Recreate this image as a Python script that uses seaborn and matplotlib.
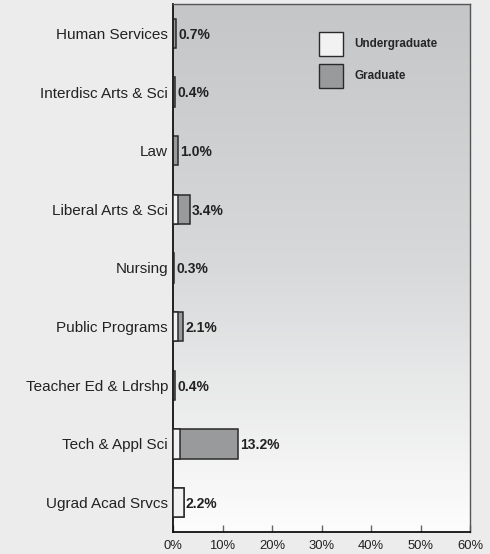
import numpy as np
import pandas as pd
import matplotlib
matplotlib.use("Agg")
import matplotlib.pyplot as plt
import seaborn as sns
from matplotlib.patches import Patch
from matplotlib.colors import LinearSegmentedColormap

categories = ["Human Services", "Interdisc Arts & Sci", "Law", "Liberal Arts & Sci",
              "Nursing", "Public Programs", "Teacher Ed & Ldrshp", "Tech & Appl Sci",
              "Ugrad Acad Srvcs"]
undergrad = [0.1, 0.0, 0.1, 1.1, 0.0, 1.0, 0.0, 1.4, 2.2]
graduate = [0.6, 0.4, 0.9, 2.3, 0.3, 1.1, 0.4, 11.8, 0.0]
totals_label = ["0.7%", "0.4%", "1.0%", "3.4%", "0.3%", "2.1%", "0.4%", "13.2%", "2.2%"]
xticks = [0, 10, 20, 30, 40, 50, 60]
xtick_labels = ["0%", "10%", "20%", "30%", "40%", "50%", "60%"]

sns.set_theme(style="white")
fam = ["Liberation Sans", "DejaVu Sans"]
plt.rcParams["font.family"] = fam

df = pd.DataFrame({"cat": categories, "under": undergrad, "grad": graduate})
df["total"] = df["under"] + df["grad"]

fig = plt.figure(figsize=(4.9, 5.54), dpi=100, facecolor="#ececec")
ax = fig.add_axes([173/490, 1-532/554, 297/490, 528/554])

# gradient background
grad_img = np.linspace(0, 1, 256).reshape(-1, 1)
cmap = LinearSegmentedColormap.from_list("bg", ["#c5c6c8", "#d8d9da", "#fdfdfd"])
ax.imshow(grad_img, aspect="auto", cmap=cmap, extent=[0, 60, 8.5, -0.5], zorder=0)

edge = "#2a2a2a"
sns.barplot(data=df, y="cat", x="total", color="#999a9c", edgecolor=edge, linewidth=1.1,
            width=0.5, saturation=1, ax=ax, zorder=2, orient="h")
sns.barplot(data=df, y="cat", x="under", color="#f2f2f2", edgecolor=edge, linewidth=1.1,
            width=0.5, saturation=1, ax=ax, zorder=3, orient="h")

for i, (t, lab) in enumerate(zip(df["total"], totals_label)):
    ax.annotate(lab, (t, i), xytext=(1.5, -1), textcoords="offset points",
                va="center", ha="left", fontsize=10, fontweight="bold",
                color="#222222", zorder=4)

ax.set_xlim(0, 60)
ax.set_ylim(8.5, -0.5)
ax.set_xticks(xticks)
ax.set_xticklabels(xtick_labels, fontsize=9.4, color="#222222")
ax.tick_params(axis="x", direction="in", length=5, width=1, color="#666666", pad=6, bottom=True)
ax.tick_params(axis="y", length=0, labelsize=11, labelcolor="#222222", pad=3.6)
ax.set_xlabel("")
ax.set_ylabel("")
for s in ["left", "bottom"]:
    ax.spines[s].set_color("#111111")
    ax.spines[s].set_linewidth(1.3)
for s in ["top", "right"]:
    ax.spines[s].set_color("#555555")
    ax.spines[s].set_linewidth(1.0)
    ax.spines[s].set_visible(True)

handles = [Patch(facecolor="#f2f2f2", edgecolor=edge, linewidth=1.0, label="Undergraduate"),
           Patch(facecolor="#999a9c", edgecolor=edge, linewidth=1.0, label="Graduate")]
ax.legend(handles=handles, loc="upper left", bbox_to_anchor=(0.4916, 0.9475), frameon=False,
          borderpad=0, borderaxespad=0,
          handlelength=2.06, handleheight=2.79, handletextpad=0.94, labelspacing=0.7,
          prop={"family": fam, "weight": "bold", "size": 8.4})

fig.savefig("out.png", dpi=100, facecolor=fig.get_facecolor())
